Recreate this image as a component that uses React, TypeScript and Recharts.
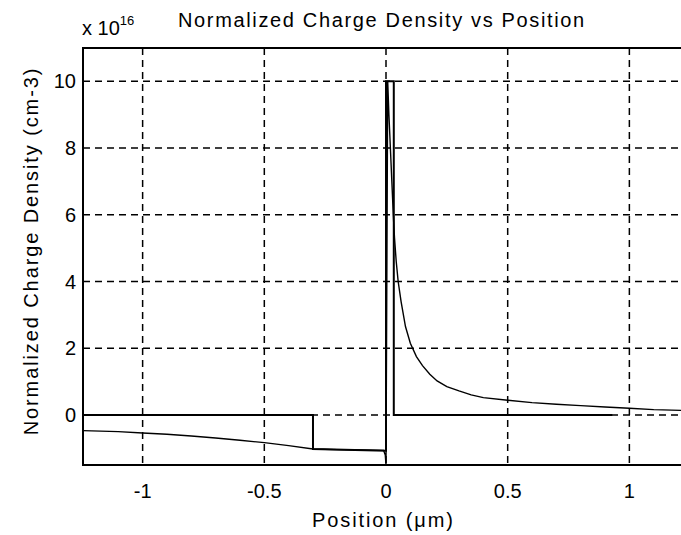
import React from 'react'
import { LineChart, Line, XAxis, YAxis, CartesianGrid, ReferenceArea } from 'recharts'

const X_TICKS = [-1, -0.5, 0, 0.5, 1]
const Y_TICKS = [0, 2, 4, 6, 8, 10]
const X_MIN = -1.245
const X_MAX = 1.245
const Y_MIN = -1.5
const Y_MAX = 11

// depletion approximation profile (step shape)
const stepX = [X_MIN, -0.3, -0.3, 0, 0, 0.032, 0.032, 0.93]
const stepY = [0, 0, -1.02, -1.07, 10, 10, 0, 0]

// computed charge density
const curveX = [
  X_MIN, -1.1, -1, -0.9, -0.8, -0.7, -0.6, -0.5, -0.4, -0.3, -0.2, -0.1, -0.01, -0.003, 0,
  0.007, 0.012, 0.018, 0.024, 0.03, 0.035, 0.042, 0.05, 0.062, 0.08, 0.1, 0.125, 0.15, 0.18,
  0.21, 0.25, 0.3, 0.35, 0.4, 0.5, 0.6, 0.7, 0.8, 0.9, 1.0, 1.1, X_MAX,
]
const curveY = [
  -0.47, -0.5, -0.54, -0.58, -0.63, -0.69, -0.76, -0.83, -0.92, -1.02, -1.04, -1.05, -1.06, -1.2, -1.5,
  10, 9, 8, 7, 6, 5.3, 4.6, 4, 3.4, 2.65, 2.15, 1.75, 1.48, 1.22,
  1.02, 0.85, 0.72, 0.6, 0.52, 0.44, 0.37, 0.32, 0.28, 0.24, 0.2, 0.16, 0.13,
]

const stepData = stepX.map((x, i) => ({ x, y: stepY[i] }))
const curveData = curveX.map((x, i) => ({ x, y: curveY[i] }))

const FONT = "'Liberation Sans', Arial, sans-serif"

function XTick(props: any) {
  const { x, y, payload } = props
  return (
    <text x={x} y={y + 33} textAnchor="middle" fontSize={20} fill="#000" fontFamily={FONT}>
      {payload.value}
    </text>
  )
}

function YTick(props: any) {
  const { y, payload } = props
  return (
    <text x={76} y={y + 7} textAnchor="end" fontSize={20} fill="#000" fontFamily={FONT}>
      {payload.value}
    </text>
  )
}

export default function App() {
  return (
    <div style={{ position: 'absolute', left: 0, top: 0, width: 681, height: 535, overflow: 'hidden', background: '#fff', fontFamily: FONT, color: '#000' }}>
      <LineChart width={700} height={535} margin={{ top: 48, right: 11, bottom: 0, left: 0 }}>
        <CartesianGrid
          stroke="#000"
          strokeWidth={1.5}
          strokeDasharray="7 5"
          horizontalValues={Y_TICKS}
          verticalValues={X_TICKS}
        />
        <XAxis
          type="number"
          dataKey="x"
          domain={[X_MIN, X_MAX]}
          ticks={X_TICKS}
          allowDataOverflow
          height={70}
          tickSize={0}
          tickMargin={0}
          axisLine={{ stroke: '#000', strokeWidth: 2 }}
          tick={<XTick />}
        />
        <YAxis
          type="number"
          dataKey="y"
          domain={[Y_MIN, Y_MAX]}
          ticks={Y_TICKS}
          allowDataOverflow
          width={83}
          tickSize={0}
          tickMargin={0}
          axisLine={{ stroke: '#000', strokeWidth: 2 }}
          tick={<YTick />}
        />
        <ReferenceArea x1={X_MIN} x2={X_MAX} y1={Y_MIN} y2={Y_MAX} fill="none" stroke="#000" strokeWidth={2} />
        <Line data={curveData} dataKey="y" type="linear" stroke="#000" strokeWidth={1.4} dot={false} isAnimationActive={false} />
        <Line data={stepData} dataKey="y" type="linear" stroke="#000" strokeWidth={2} dot={false} isAnimationActive={false} />
      </LineChart>
      <div style={{ position: 'absolute', left: 178, top: 9, fontSize: 20, letterSpacing: 1.65, whiteSpace: 'nowrap' }}>
        Normalized Charge Density vs Position
      </div>
      <div style={{ position: 'absolute', left: 82, top: 15, fontSize: 20, whiteSpace: 'nowrap' }}>
        x 10<sup style={{ fontSize: 13, position: 'relative', top: -2 }}>16</sup>
      </div>
      <div style={{ position: 'absolute', left: 312, top: 509, fontSize: 20, letterSpacing: 1.9, whiteSpace: 'nowrap' }}>
        Position (μm)
      </div>
      <div
        style={{
          position: 'absolute', left: 31, top: 251, fontSize: 20, letterSpacing: 1.9, whiteSpace: 'nowrap',
          transform: 'translate(-50%, -50%) rotate(-90deg)',
        }}
      >
        Normalized Charge Density (cm-3)
      </div>
    </div>
  )
}
